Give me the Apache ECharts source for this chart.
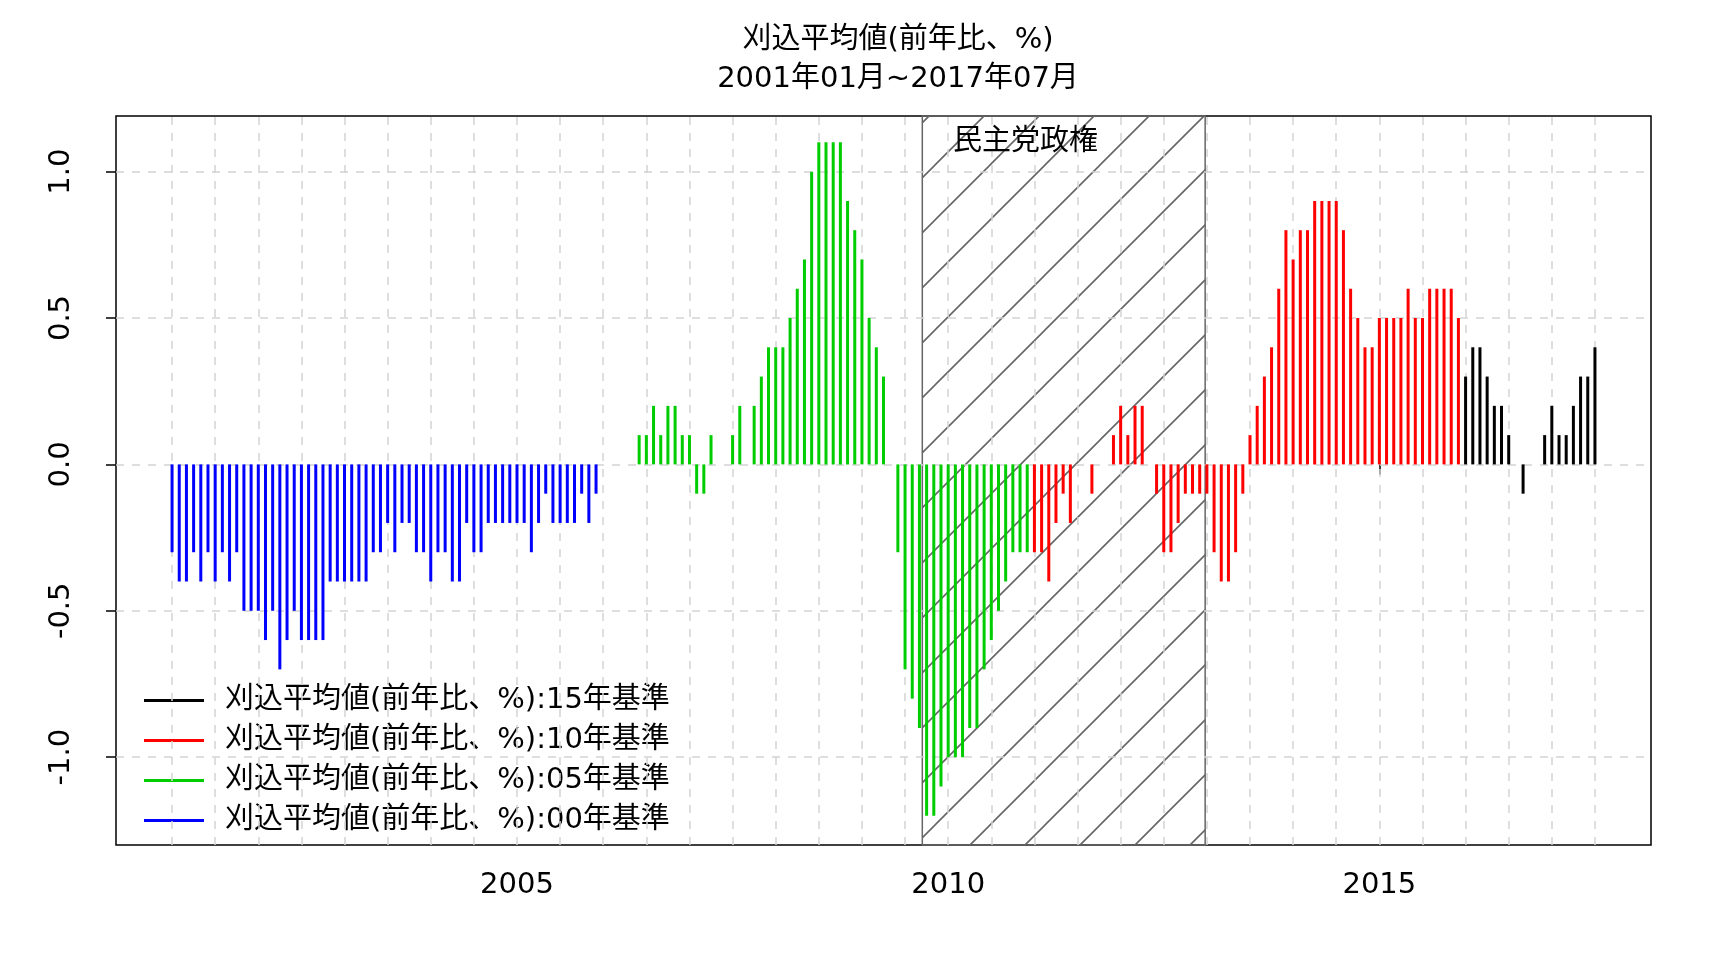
<!DOCTYPE html>
<html lang="ja">
<head>
  <meta charset="UTF-8">
  <title>刈込平均値</title>
  <script src="https://cdn.jsdelivr.net/npm/echarts@6/dist/echarts.min.js"></script>
  <style>
    html, body { margin: 0; padding: 0; background: #fff; }
    #main { width: 1728px; height: 960px; }
  </style>
</head>
<body>
<div id="main"></div>
<script>
  // 2001年01月から月次
  var startYear = 2001;
  // 00年基準 2001-01 .. 2005-12
  var vals00 = [-0.3, -0.4, -0.4, -0.3, -0.4, -0.3, -0.4, -0.3, -0.4, -0.3, -0.5, -0.5,
                -0.5, -0.6, -0.5, -0.7, -0.6, -0.5, -0.6, -0.6, -0.6, -0.6, -0.4, -0.4,
                -0.4, -0.4, -0.4, -0.4, -0.3, -0.3, -0.2, -0.3, -0.2, -0.2, -0.3, -0.3,
                -0.4, -0.3, -0.3, -0.4, -0.4, -0.2, -0.3, -0.3, -0.2, -0.2, -0.2, -0.2,
                -0.2, -0.2, -0.3, -0.2, -0.1, -0.2, -0.2, -0.2, -0.2, -0.1, -0.2, -0.1];
  // 05年基準 2006-01 .. 2010-12
  var vals05 = [0, 0, 0, 0, 0, 0.1, 0.1, 0.2, 0.1, 0.2, 0.2, 0.1,
                0.1, -0.1, -0.1, 0.1, 0, 0, 0.1, 0.2, 0, 0.2, 0.3, 0.4,
                0.4, 0.4, 0.5, 0.6, 0.7, 1.0, 1.1, 1.1, 1.1, 1.1, 0.9, 0.8,
                0.7, 0.5, 0.4, 0.3, 0, -0.3, -0.7, -0.8, -0.9, -1.2, -1.2, -1.1,
                -1.0, -1.0, -1.0, -0.9, -0.9, -0.7, -0.6, -0.5, -0.4, -0.3, -0.3, -0.3];
  // 10年基準 2011-01 .. 2015-12
  var vals10 = [-0.3, -0.3, -0.4, -0.2, -0.1, -0.2, 0, 0, -0.1, 0, 0, 0.1,
                0.2, 0.1, 0.2, 0.2, 0, -0.1, -0.3, -0.3, -0.2, -0.1, -0.1, -0.1,
                -0.1, -0.3, -0.4, -0.4, -0.3, -0.1, 0.1, 0.2, 0.3, 0.4, 0.6, 0.8,
                0.7, 0.8, 0.8, 0.9, 0.9, 0.9, 0.9, 0.8, 0.6, 0.5, 0.4, 0.4,
                0.5, 0.5, 0.5, 0.5, 0.6, 0.5, 0.5, 0.6, 0.6, 0.6, 0.6, 0.5];
  // 15年基準 2016-01 .. 2017-07
  var vals15 = [0.3, 0.4, 0.4, 0.3, 0.2, 0.2, 0.1, 0, -0.1, 0, 0, 0.1,
                0.2, 0.1, 0.1, 0.2, 0.3, 0.3, 0.4];
  var yTicks = [-1.0, -0.5, 0.0, 0.5, 1.0];
  var xTicks = [2005, 2010, 2015];
  var dpjStart = 2009.7, dpjEnd = 2012.98;
  var font = 'DejaVu Sans, Noto Sans CJK JP';

  var seriesDefs = [
    { name: '刈込平均値(前年比、%):15年基準', color: '#000000', vals: vals15, offset: 180 },
    { name: '刈込平均値(前年比、%):10年基準', color: '#ff0000', vals: vals10, offset: 120 },
    { name: '刈込平均値(前年比、%):05年基準', color: '#00cd00', vals: vals05, offset: 60 },
    { name: '刈込平均値(前年比、%):00年基準', color: '#0000ff', vals: vals00, offset: 0 }
  ];

  // 斜線パターン
  var pat = document.createElement('canvas');
  pat.width = 55; pat.height = 55;
  var ctx = pat.getContext('2d');
  ctx.strokeStyle = '#666';
  ctx.lineWidth = 1.6;
  ctx.beginPath();
  ctx.moveTo(-5, 60); ctx.lineTo(60, -5);
  ctx.moveTo(-5, 5); ctx.lineTo(5, -5);
  ctx.moveTo(50, 60); ctx.lineTo(60, 50);
  ctx.stroke();

  var gridX = [];
  for (var g = 2001; g <= 2017.5; g += 0.5) gridX.push({ xAxis: g });
  var gridY = yTicks.map(function (v) { return { yAxis: v }; });

  var series = [];
  // 補助線と民主党政権（下層）
  series.push({
    type: 'line',
    data: [],
    silent: true,
    z: 0,
    markLine: {
      silent: true,
      symbol: 'none',
      animation: false,
      label: { show: false },
      lineStyle: { color: '#d3d3d3', type: [8, 8], width: 1.5 },
      data: gridX.concat(gridY)
    },
    markArea: {
      silent: true,
      itemStyle: { color: { image: pat, repeat: 'repeat' }, borderColor: '#666', borderWidth: 1.5 },
      data: [[{ xAxis: dpjStart }, { xAxis: dpjEnd }]]
    }
  });
  seriesDefs.forEach(function (d) {
    series.push({
      name: d.name,
      type: 'bar',
      barWidth: 3,
      barGap: '-100%',
      itemStyle: { color: d.color },
      z: 10,
      data: d.vals.map(function (v, i) { return [startYear + (d.offset + i) / 12, v]; })
    });
  });

  var chart = echarts.init(document.getElementById('main'));
  chart.setOption({
    animation: false,
    textStyle: { fontFamily: font },
    title: {
      text: '刈込平均値(前年比、%)\n2001年01月~2017年07月',
      left: 893, textAlign: 'center', top: 16,
      textStyle: { fontSize: 29, fontWeight: 'normal', color: '#000', lineHeight: 39, fontFamily: font }
    },
    graphic: [{
      type: 'text', left: 953, top: 128, z: 20,
      style: { text: '民主党政権', fontSize: 29, fill: '#000', fontFamily: font }
    }],
    legend: {
      orient: 'vertical',
      left: 134, top: 680,
      backgroundColor: '#fff',
      padding: [6, 10, 6, 10],
      itemWidth: 60, itemHeight: 3, itemGap: 11,
      icon: 'rect',
      textStyle: { fontSize: 29, color: '#000', fontFamily: font, padding: [0, 0, 0, 16] },
      data: seriesDefs.map(function (d) { return d.name; })
    },
    grid: {
      left: 116, right: 77, top: 116, bottom: 115,
      show: true, borderColor: '#000', borderWidth: 1.5
    },
    xAxis: {
      type: 'value', min: 2000.35, max: 2018.15,
      axisLine: { show: false },
      splitLine: { show: false },
      axisTick: { show: true, length: 10, customValues: xTicks, lineStyle: { color: '#000', width: 1.5 } },
      axisLabel: { customValues: xTicks, fontSize: 29, color: '#000', margin: 26, formatter: function (v) { return String(v); } }
    },
    yAxis: {
      type: 'value', min: -1.30, max: 1.19,
      axisLine: { show: false },
      splitLine: { show: false },
      axisTick: { show: true, length: 10, customValues: yTicks, lineStyle: { color: '#000', width: 1.5 } },
      axisLabel: {
        customValues: yTicks, fontSize: 29, color: '#000', rotate: 90, margin: 40,
        formatter: function (v) { return v.toFixed(1); }
      }
    },
    series: series
  });
</script>
</body>
</html>
